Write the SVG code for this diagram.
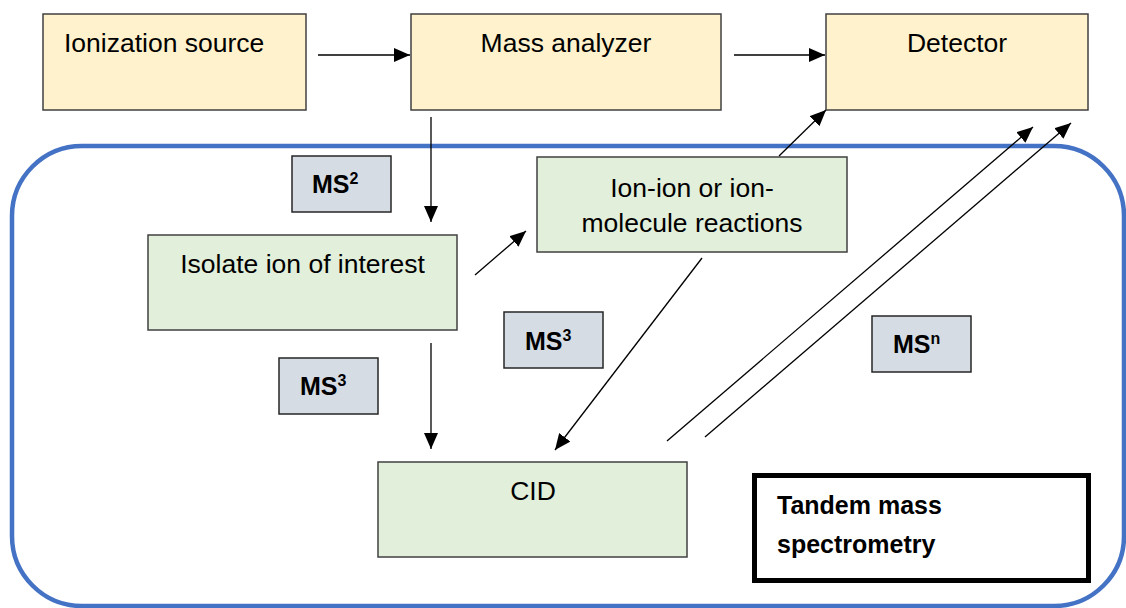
<svg xmlns="http://www.w3.org/2000/svg" width="1126" height="608" viewBox="0 0 1126 608">
<style>
.t{font-family:"Liberation Sans",Arial,sans-serif;font-size:26.5px;fill:#000}
.b{font-family:"Liberation Sans",Arial,sans-serif;font-weight:bold;font-size:25px;fill:#000}
.s{font-size:16px}
.y{fill:#FFF2CC;stroke:#404040;stroke-width:1.5}
.g{fill:#E2EFDA;stroke:#404040;stroke-width:1.5}
.m{fill:#D6DCE4;stroke:#262626;stroke-width:1.5}
.c{stroke:#000;stroke-width:1.3;fill:none;marker-end:url(#ah)}
</style>
<defs>
<marker id="ah" markerUnits="userSpaceOnUse" markerWidth="17" markerHeight="14" refX="16" refY="7" orient="auto">
<path d="M0,0 L16,7 L0,14 Z" fill="#000"/>
</marker>
</defs>
<rect id="tandem-region" x="12" y="146" width="1112" height="460" rx="70" ry="70" fill="none" stroke="#4472C4" stroke-width="4.5"/>
<g id="ionization-source"><rect class="y" x="43" y="14" width="263" height="96"/><text class="t" x="64" y="52">Ionization source</text></g>
<g id="mass-analyzer"><rect class="y" x="411" y="14" width="310" height="96"/><text class="t" x="566" y="52" text-anchor="middle">Mass analyzer</text></g>
<g id="detector"><rect class="y" x="826" y="14" width="262" height="96"/><text class="t" x="957" y="52" text-anchor="middle">Detector</text></g>
<g id="ms2"><rect class="m" x="292" y="156" width="99" height="56"/><text class="b" x="312" y="193">MS<tspan class="s" dy="-9">2</tspan></text></g>
<g id="isolate"><rect class="g" x="148" y="235" width="309" height="95"/><text class="t" x="302.5" y="273" text-anchor="middle">Isolate ion of interest</text></g>
<g id="ion-reactions"><rect class="g" x="537" y="157" width="310" height="95"/><text class="t" x="692" y="197" text-anchor="middle">Ion-ion or ion-</text><text class="t" x="692" y="232" text-anchor="middle">molecule reactions</text></g>
<g id="ms3-mid"><rect class="m" x="504" y="312" width="99" height="56"/><text class="b" x="525" y="350">MS<tspan class="s" dy="-9">3</tspan></text></g>
<g id="ms3-left"><rect class="m" x="279" y="358" width="99" height="56"/><text class="b" x="300" y="395">MS<tspan class="s" dy="-9">3</tspan></text></g>
<g id="msn"><rect class="m" x="872" y="316" width="99" height="56"/><text class="b" x="893" y="353">MS<tspan class="s" dy="-9">n</tspan></text></g>
<g id="cid"><rect class="g" x="378" y="462" width="309" height="95"/><text class="t" x="533" y="500" text-anchor="middle">CID</text></g>
<g id="legend"><rect x="754.5" y="475.5" width="334" height="105" fill="#fff" stroke="#000" stroke-width="5"/><text class="b" x="777" y="514">Tandem mass</text><text class="b" x="777" y="553">spectrometry</text></g>
<g id="connectors">
<line class="c" x1="318" y1="55" x2="410" y2="55"/>
<line class="c" x1="734" y1="55" x2="825" y2="55"/>
<line class="c" x1="431" y1="117" x2="431" y2="222"/>
<line class="c" x1="475" y1="275" x2="526" y2="231"/>
<line class="c" x1="779" y1="156" x2="826" y2="110"/>
<line class="c" x1="702" y1="258" x2="555" y2="450"/>
<line class="c" x1="431" y1="343" x2="431" y2="449"/>
<line class="c" x1="667" y1="441" x2="1033" y2="127"/>
<line class="c" x1="705" y1="437" x2="1071" y2="123"/>
</g>
</svg>
